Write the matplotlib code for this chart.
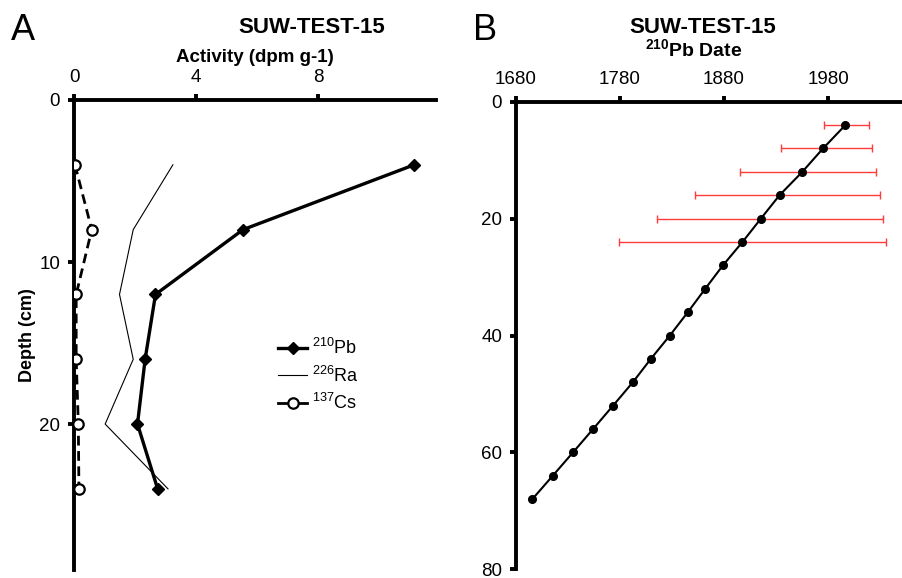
import numpy as np
import matplotlib
matplotlib.use("Agg")
import matplotlib.pyplot as plt
from matplotlib.lines import Line2D

plt.rcParams['font.family'] = ['Liberation Sans', 'DejaVu Sans']
plt.rcParams['mathtext.fontset'] = 'custom'
plt.rcParams['mathtext.rm'] = 'Liberation Sans'
plt.rcParams['mathtext.bf'] = 'Liberation Sans:bold'

# panel A: activity profiles
depth_a = [4, 8, 12, 16, 20, 24]
pb210 = [11.15, 5.54, 2.67, 2.33, 2.08, 2.74]
ra226 = [3.24, 1.94, 1.49, 1.94, 1.02, 3.08]
cs137 = [0.03, 0.58, 0.07, 0.07, 0.14, 0.16]

# panel B: 210Pb dates
depth_b = [4, 8, 12, 16, 20, 24, 28, 32, 36, 40, 44, 48, 52, 56, 60, 64, 68]
date_b = [1996.6, 1975.1, 1955.2, 1933.3, 1915.4, 1897.7, 1878.9, 1861.9,
          1845.2, 1827.9, 1809.6, 1792.3, 1773.3, 1754.1, 1734.8, 1715.3, 1695.7]
err_depth = [4, 8, 12, 16, 20, 24]
err_date = [1996.6, 1975.1, 1955.2, 1933.3, 1915.4, 1897.7]
err_low = [1976.5, 1935.0, 1895.0, 1851.6, 1816.0, 1779.5]
err_high = [2019.0, 2022.0, 2026.0, 2029.7, 2033.0, 2036.0]

fig = plt.figure(figsize=(9.03, 5.78), dpi=100)

def style_axis(ax):
    for s in ['right', 'bottom']:
        ax.spines[s].set_visible(False)
    for s in ['top', 'left']:
        ax.spines[s].set_linewidth(2.8)
    ax.xaxis.tick_top()
    ax.xaxis.set_label_position('top')
    ax.tick_params(axis='both', direction='out', length=4, width=2.8,
                   labelsize=13.5, pad=6)

# ---- A ----
axA = fig.add_axes([0.082, 0.014, 0.401, 0.813])
axA.plot(pb210, depth_a, color='black', lw=2.4, marker='D', ms=6, zorder=3)
axA.plot(ra226, depth_a, color='black', lw=0.8, zorder=2)
axA.plot(cs137, depth_a, color='black', lw=2.0, ls=(0, (3.5, 2)), marker='o',
         ms=7.5, mfc='white', mew=1.6, zorder=4)
axA.set_xlim(0, 11.87)
axA.set_ylim(29, 0)
axA.set_xticks([0, 4, 8])
axA.set_yticks([0, 10, 20])
style_axis(axA)
axA.set_xlabel('Activity (dpm g-1)', fontsize=13.5, fontweight='bold', labelpad=5)
axA.set_ylabel('Depth (cm)', fontsize=13, fontweight='bold', labelpad=2)

handles = [
    Line2D([], [], color='black', lw=2.4, marker='D', ms=6),
    Line2D([], [], color='black', lw=0.8),
    Line2D([], [], color='black', lw=2.0, marker='o', ms=7.5, mfc='white', mew=1.6),
]
labels = ['$^{210}$Pb', '$^{226}$Ra', '$^{137}$Cs']
fig.legend(handles, labels, loc='center left', bbox_to_anchor=(0.29, 0.35),
           frameon=False, fontsize=13, handlelength=1.6, handletextpad=0.3,
           labelspacing=0.4)

fig.text(0.012, 0.93, 'A', fontsize=26)
fig.text(0.345, 0.952, 'SUW-TEST-15', fontsize=16, fontweight='bold', ha='center', va='center')

# ---- B ----
axB = fig.add_axes([0.5714, 0.015, 0.4286, 0.809])
axB.errorbar(err_date, err_depth,
             xerr=[np.array(err_date) - np.array(err_low), np.array(err_high) - np.array(err_date)],
             fmt='none', ecolor='#ff3b3b', elinewidth=1.0, capsize=3, capthick=1.0, zorder=2)
axB.plot(date_b, depth_b, color='black', lw=1.5, marker='o', ms=5.5, zorder=3)
axB.set_xlim(1680, 2052)
axB.set_ylim(80, 0)
axB.set_xticks([1680, 1780, 1880, 1980])
axB.set_yticks([0, 20, 40, 60, 80])
style_axis(axB)

fig.text(0.524, 0.93, 'B', fontsize=26)
fig.text(0.778, 0.952, 'SUW-TEST-15', fontsize=16, fontweight='bold', ha='center', va='center')
fig.text(0.768, 0.915, '$\\mathbf{^{210}}$Pb Date', fontsize=14, fontweight='bold', ha='center', va='center')

fig.savefig('out.png', dpi=100)
